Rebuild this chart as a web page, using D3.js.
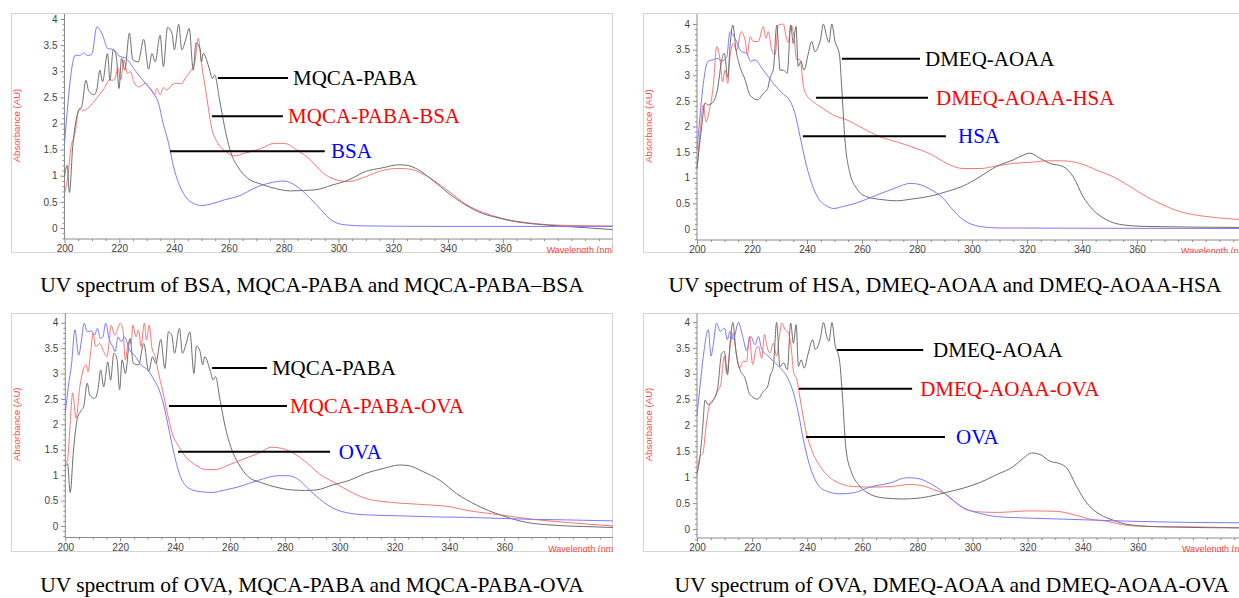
<!DOCTYPE html>
<html>
<head>
<meta charset="utf-8">
<script src="https://cdn.jsdelivr.net/npm/d3@7"></script>
<style>
  body { margin: 0; background: #fff; }
  svg { display: block; }
</style>
</head>
<body>
<svg id="fig" width="1239" height="598"></svg>
<script>
// ---------- spectra: [wavelength (nm), absorbance (AU)] ----------
const bsa = [[200,1.62],[204,3.31],[205.4,3.3],[207,3.35],[208.5,3.3],[210,3.33],[211.8,3.85],[213.9,3.69],[215.7,3.44],[218,3.41],[220,3.29],[222.3,3.25],[226,3.0],[229.5,2.77],[232.5,2.58],[234.3,2.39],[236,2.0],[238,1.62],[239.8,1.17],[242.2,0.79],[244.6,0.57],[247.6,0.46],[250,0.43],[253.6,0.46],[258.4,0.54],[263,0.6],[270.5,0.79],[277.7,0.89],[280,0.9],[285,0.79],[289.8,0.56],[293.8,0.34],[297.4,0.15],[302.4,0.06],[310,0.04],[340,0.03],[400,0.03]];

const mqcaPaba1 = [[200,0.98],[201,1.2],[201.8,0.68],[203,1.56],[204.8,2.19],[206.4,2.35],[207.8,2.83],[208.8,2.63],[210.8,2.55],[211.8,2.65],[212.9,3.02],[213.9,2.8],[215.7,3.34],[216.6,2.83],[217.8,3.42],[218.9,3.28],[219.9,2.67],[220.8,3.25],[222,3.02],[223.7,3.73],[224.9,3.22],[226.9,3.18],[228.9,3.61],[230.7,3.04],[231.9,3.34],[233.1,3.18],[234.9,3.69],[236.1,3.09],[237.6,3.84],[239.2,3.73],[240.1,3.41],[241.7,3.9],[242.8,3.41],[244.2,3.6],[245.5,3.82],[247,3.02],[248,3.54],[249.4,3.44],[250,3.18],[250.6,3.34],[253,3.02],[253.9,2.86],[254.8,2.93],[256.6,2.45],[258.4,1.94],[260.8,1.43],[263.3,1.17],[266.9,0.95],[271.7,0.84],[275.3,0.78],[282.5,0.71],[287.3,0.72],[291.4,0.73],[297.6,0.82],[303.7,0.92],[309.8,1.08],[315.9,1.15],[322,1.21],[325,1.2],[329.3,1.11],[334.2,0.92],[340.3,0.66],[346.4,0.44],[352.5,0.28],[358.6,0.19],[364.7,0.12],[370.8,0.08],[383,0.03],[400,-0.03]];

const mqcaPabaBsa = [[200,0.66],[201.2,0.98],[202.4,1.56],[203.6,1.75],[205.4,2.29],[206.6,2.24],[208.4,2.29],[210.8,2.42],[212.7,2.55],[214.5,2.67],[216.3,2.83],[218.1,2.83],[219.6,3.06],[220.5,2.83],[221.7,3.22],[222.9,2.96],[224.1,2.99],[225.3,2.8],[227.1,2.7],[229.5,2.77],[231.9,2.61],[232.9,2.55],[233.7,2.67],[234.9,2.55],[236.1,2.69],[237.3,2.64],[239.2,2.74],[241,2.77],[242.8,2.76],[244,2.86],[245.8,2.99],[247.6,3.18],[248.8,3.63],[250,3.15],[251.8,2.55],[253.6,1.94],[256,1.62],[259,1.46],[262,1.38],[265.7,1.43],[271.7,1.52],[276.5,1.62],[280.1,1.62],[284.9,1.49],[289.8,1.3],[293,1.12],[297.6,0.95],[303.7,0.89],[309.8,0.98],[315.9,1.1],[322,1.14],[325.6,1.13],[331.7,1.01],[340.3,0.7],[346.4,0.46],[358.6,0.2],[370.8,0.09],[383,0.05],[400,0.04]];

const hsa = [[200,1.54],[204.1,3.28],[205.9,3.3],[207.2,3.33],[209,3.28],[210.8,3.36],[212,3.85],[213.8,3.72],[216.2,3.46],[218.1,3.43],[219.5,3.27],[221.1,3.3],[224.1,3.1],[227.8,2.84],[231.4,2.63],[233.6,2.52],[235.6,2.26],[237.5,1.8],[239.3,1.35],[241.7,0.89],[244.1,0.6],[247.2,0.45],[249.6,0.4],[253.2,0.44],[258.1,0.51],[265.3,0.66],[272.6,0.81],[277.5,0.89],[279.9,0.88],[284.7,0.78],[289.5,0.6],[293.1,0.37],[296.8,0.18],[302.9,0.05],[310,0.02],[400,0.01]];

const dmeqAoaa2 = [[200,1.18],[201.7,2.0],[202.9,2.46],[204.1,2.42],[205.9,2.48],[207.4,2.71],[209,3.3],[209.9,3.43],[211.2,2.96],[212,3.56],[213,3.98],[214.2,3.49],[215.6,3.17],[217.5,2.91],[219.3,2.61],[222.1,2.52],[224.1,2.65],[225.7,2.74],[226.5,2.94],[227.8,3.13],[229,3.98],[230.2,3.1],[231.4,3.1],[232.8,3.04],[234.1,3.98],[235,3.62],[236,3.95],[236.8,3.17],[237.8,3.27],[238.9,3.1],[240.5,3.43],[241.7,3.66],[242.9,3.46],[244.1,3.56],[245,3.72],[245.9,4.0],[247.2,3.75],[248,3.64],[249,4.0],[250.2,3.66],[251.8,3.4],[252.6,2.78],[253.8,1.74],[255.6,1.09],[258.1,0.79],[261.7,0.63],[267.8,0.57],[272.6,0.55],[277.5,0.58],[284.7,0.64],[290.8,0.73],[296.8,0.84],[302.9,1.02],[308.9,1.22],[315,1.35],[318.6,1.44],[321,1.48],[324.7,1.38],[328.3,1.28],[333.1,1.22],[336.8,1.02],[340.4,0.63],[344.1,0.37],[348.9,0.18],[355,0.08],[363.5,0.05],[400,0.03]];

const dmeqAoaaHsa = [[200,1.18],[201.1,1.87],[202.3,2.42],[203.3,2.09],[204.5,2.32],[205.9,2.78],[207.2,3.56],[208.4,3.3],[209.3,2.87],[210.2,3.1],[211.2,2.84],[212,3.36],[213.2,3.62],[214.4,3.49],[216,3.85],[217.5,3.69],[218.3,3.4],[219.3,3.75],[220.5,3.66],[222.3,3.66],[224.1,3.95],[225.1,3.72],[225.9,3.85],[227.2,3.49],[228.4,3.4],[229.6,3.98],[231.4,4.0],[232.4,3.75],[233.2,3.64],[234.1,3.98],[235.3,3.75],[236.2,3.31],[237.5,3.3],[238.7,2.78],[239.9,2.61],[242.3,2.48],[245.9,2.35],[249.6,2.22],[254.4,2.13],[260.5,1.96],[266.5,1.8],[272.6,1.7],[279.9,1.57],[285,1.46],[290.8,1.28],[296.8,1.18],[302.9,1.18],[308.9,1.23],[315,1.28],[321,1.3],[327.1,1.33],[333.1,1.33],[339.2,1.28],[345.3,1.15],[351.3,1.02],[357.4,0.83],[363.5,0.63],[369.5,0.47],[375.6,0.34],[381.7,0.27],[391.4,0.21],[400,0.17]];

const ova3 = [[200,2.22],[201.1,2.74],[202.3,3.2],[203.5,3.86],[204.9,3.36],[205.9,3.66],[206.9,3.99],[208,3.82],[209.5,3.84],[210.7,3.76],[211.7,3.89],[212.8,3.69],[213.7,3.72],[214.7,3.99],[216.1,3.66],[217.3,3.53],[218.2,3.43],[219.2,3.72],[220.4,3.63],[221.6,3.72],[223.4,3.46],[225.2,3.36],[227.6,3.17],[230,3.07],[232.4,2.87],[234.2,2.68],[236,2.35],[237.8,1.89],[239.6,1.43],[242,0.97],[245.1,0.74],[248.7,0.68],[253.5,0.66],[258.3,0.71],[263.1,0.77],[270.4,0.9],[277.6,0.99],[281.2,0.99],[286,0.87],[289,0.71],[293.9,0.48],[297.6,0.35],[303.7,0.25],[309.7,0.22],[321.9,0.2],[334.1,0.18],[346.2,0.17],[358.4,0.15],[370.6,0.13],[382.7,0.12],[400,0.1]];

const mqcaPaba3 = [[200,1.17],[200.8,1.23],[201.8,0.66],[202.9,1.43],[204.3,2.09],[205.9,2.28],[206.7,2.35],[208,2.81],[208.9,2.58],[210.7,2.51],[211.9,2.68],[212.9,3.07],[214,2.74],[215.5,3.23],[216.5,2.87],[217.7,3.4],[218.8,3.3],[219.8,2.68],[220.7,3.27],[221.9,3.0],[223.6,3.69],[224.8,3.2],[226.7,3.17],[228.6,3.59],[230.4,3.04],[231.8,3.33],[233,3.2],[234.8,3.67],[236.3,3.1],[237.6,3.82],[238.8,3.76],[239.8,3.4],[241.6,3.89],[242.7,3.4],[243.9,3.56],[245.4,3.82],[246.9,3.0],[247.8,3.54],[249,3.46],[250.1,3.17],[250.8,3.33],[252.9,3.04],[253.9,2.87],[254.7,2.94],[256.5,2.45],[258.3,1.95],[260.7,1.5],[263.1,1.23],[266.7,0.97],[271.6,0.85],[276.4,0.77],[282.4,0.71],[287.2,0.7],[291.5,0.71],[297.6,0.81],[303.7,0.9],[309.7,1.04],[315.8,1.13],[321.9,1.2],[324.9,1.19],[330.4,1.07],[336.5,0.9],[342.6,0.64],[349.9,0.41],[358.4,0.22],[368.2,0.07],[376.7,0.02],[388.8,-0.01],[400,-0.03]];

const mqcaPabaOva = [[200,1.23],[200.8,1.3],[201.7,1.95],[202.7,2.62],[203.9,2.12],[205.3,2.74],[206.5,3.07],[207.5,3.17],[208.3,3.04],[209.2,3.4],[210.1,3.79],[211.1,3.53],[212.5,3.59],[214,3.43],[215.2,3.33],[215.9,3.59],[216.7,3.95],[218,3.76],[219.2,3.89],[220,3.99],[221,3.86],[221.9,3.27],[223.1,3.63],[224,3.59],[224.6,3.95],[225.8,3.72],[226.7,3.86],[227.6,3.53],[228.8,3.99],[229.6,3.66],[230.6,3.95],[231.6,3.5],[232.8,3.33],[234,3.0],[235.4,2.68],[237.2,2.22],[239,1.82],[241.4,1.56],[243.9,1.36],[247.5,1.2],[251.1,1.11],[254.7,1.11],[259.5,1.2],[265.5,1.33],[270.4,1.43],[275.2,1.55],[280,1.51],[285,1.37],[289.6,1.17],[292,1.05],[297.6,0.87],[303.7,0.68],[309.7,0.54],[315.8,0.48],[321.9,0.45],[334.1,0.41],[340.2,0.38],[346.2,0.31],[358.4,0.22],[370.6,0.13],[382.7,0.07],[400,0.0]];

const ova4 = [[200,2.19],[201.1,2.76],[202.3,3.34],[204.1,3.85],[205.1,3.34],[205.9,3.56],[207.1,3.98],[208.4,3.82],[210,3.88],[211,3.66],[212,3.82],[213.2,3.66],[215,3.99],[216.6,3.72],[218,3.45],[219.5,3.72],[221.1,3.56],[222.3,3.72],[223.5,3.47],[225.3,3.37],[227.7,3.24],[230.8,3.08],[233.2,2.89],[235,2.63],[236.8,2.24],[238.6,1.73],[241,1.21],[243.5,0.89],[247.1,0.73],[251.9,0.68],[256.8,0.7],[262.8,0.81],[270.1,0.89],[276.1,0.99],[279.8,0.98],[284.6,0.88],[288.2,0.76],[291.8,0.6],[296.7,0.41],[302.8,0.3],[308.8,0.24],[320.9,0.21],[333,0.19],[345.1,0.17],[357.2,0.15],[375.3,0.13],[400,0.12]];

const dmeqAoaa4 = [[200,1.08],[201.1,1.4],[202.1,1.98],[202.9,2.49],[204.1,2.4],[205.7,2.47],[207.4,2.69],[209,3.4],[209.9,3.43],[211.1,2.98],[212,3.59],[213,3.99],[214.2,3.4],[215.6,3.08],[217.4,2.92],[219.2,2.6],[222,2.51],[224.1,2.66],[225.7,2.76],[226.5,2.95],[227.7,3.14],[228.9,3.99],[230.1,3.14],[231.4,3.21],[232.8,3.08],[234,3.98],[235,3.59],[236,3.95],[236.8,3.14],[237.8,3.27],[238.9,3.11],[240.4,3.4],[242,3.66],[242.9,3.47],[244.1,3.56],[244.9,3.72],[245.9,3.99],[247.1,3.72],[247.9,3.63],[249,3.99],[250.1,3.56],[251.7,3.27],[252.8,2.56],[254.1,1.53],[256.2,1.08],[258.6,0.86],[261.6,0.71],[267.7,0.6],[274.9,0.58],[281,0.6],[287,0.66],[290.7,0.71],[296.7,0.79],[302.8,0.9],[308.8,1.05],[314.9,1.21],[318.5,1.37],[321.5,1.47],[324.5,1.44],[328.1,1.31],[331.8,1.26],[334.2,1.18],[337.8,0.82],[341.5,0.5],[346.3,0.28],[351.1,0.17],[357.2,0.08],[369.3,0.04],[400,0.02]];

const dmeqAoaaOva = [[200,1.02],[201.1,1.4],[202.1,1.46],[203.3,1.98],[204.7,2.43],[205.9,2.5],[207.4,2.66],[208.6,2.79],[209.9,3.34],[210.8,3.01],[212,3.5],[213,3.79],[214.2,3.43],[215.4,3.11],[216.8,3.24],[218,3.24],[219,3.72],[220.2,3.18],[221.4,3.47],[222.3,3.53],[223.5,3.3],[224.5,3.76],[225.5,3.5],[226.5,3.4],[227.7,3.59],[228.9,3.34],[229.9,3.72],[230.8,3.98],[232,3.85],[233.2,3.79],[234.4,3.4],[235,3.05],[236.2,2.89],[237.7,2.43],[239.2,1.98],[241.6,1.53],[244.7,1.21],[248.3,0.99],[251.9,0.88],[256.8,0.82],[262.8,0.81],[270.1,0.82],[277.4,0.86],[282.2,0.83],[287,0.74],[289.4,0.7],[294.3,0.5],[297.9,0.37],[302.8,0.33],[308.8,0.32],[320.9,0.35],[330.6,0.34],[336.6,0.28],[342.7,0.19],[348.7,0.15],[354.8,0.08],[363.3,0.05],[381.4,0.04],[400,0.02]];

// ---------- axis ticks and text ----------
const yTicks = [0, 0.5, 1, 1.5, 2, 2.5, 3, 3.5, 4];
const xTicks = [200, 220, 240, 260, 280, 300, 320, 340, 360];
const captions = [
  "UV spectrum of BSA, MQCA-PABA and MQCA-PABA\u2013BSA",
  "UV spectrum of HSA, DMEQ-AOAA and DMEQ-AOAA-HSA",
  "UV spectrum of OVA, MQCA-PABA and MQCA-PABA-OVA",
  "UV spectrum of OVA, DMEQ-AOAA and DMEQ-AOAA-OVA"
];

// ---------- styling ----------
const curveColor = { black: "#6e6e6e", red: "#ff7474", blue: "#7a7aff" };
const labelColor = { black: "#000", red: "#ff0000", blue: "#0000ff" };

// Panel layout; annotation lines are given in data units (nm, AU)
const panels = [
  { frame: [11, 13, 613, 253], xr: [64.5, 612.5], y0: 228, y4: 19, axisY: 239, axisTop: 14,
    series: [[mqcaPabaBsa, "red"], [mqcaPaba1, "black"], [bsa, "blue"]],
    notes: [
      { text: "MQCA-PABA", c: "black", x1: 256, x2: 281.6, y: 2.87, lx: 283.4 },
      { text: "MQCA-PABA-BSA", c: "red", x1: 253.8, x2: 279.7, y: 2.14, lx: 281.6 },
      { text: "BSA", c: "blue", x1: 238.5, x2: 295, y: 1.47, lx: 297.3 }
    ],
    cap: { i: 0, x: 312, y: 292 } },
  { frame: [643, 13, 1250, 253], xr: [697, 1247], y0: 229, y4: 24, axisY: 240, axisTop: 14,
    series: [[dmeqAoaaHsa, "red"], [dmeqAoaa2, "black"], [hsa, "blue"]],
    notes: [
      { text: "DMEQ-AOAA", c: "black", x1: 252.7, x2: 281.1, y: 3.32, lx: 282.9 },
      { text: "DMEQ-AOAA-HSA", c: "red", x1: 243.3, x2: 284, y: 2.56, lx: 286.9 },
      { text: "HSA", c: "blue", x1: 238.5, x2: 290.5, y: 1.81, lx: 294.9 }
    ],
    cap: { i: 1, x: 945, y: 292 } },
  { frame: [11, 313, 613, 552], xr: [65.3, 614], y0: 526, y4: 322.7, axisY: 537.5, axisTop: 313,
    series: [[mqcaPabaOva, "red"], [mqcaPaba3, "black"], [ova3, "blue"]],
    notes: [
      { text: "MQCA-PABA", c: "black", x1: 253.5, x2: 273.5, y: 3.11, lx: 275.3 },
      { text: "MQCA-PABA-OVA", c: "red", x1: 237.8, x2: 280.8, y: 2.36, lx: 281.9 },
      { text: "OVA", c: "blue", x1: 241.1, x2: 296.5, y: 1.46, lx: 299.7 }
    ],
    cap: { i: 2, x: 312, y: 592 } },
  { frame: [643, 313, 1250, 552], xr: [697, 1248], y0: 529, y4: 322, axisY: 538, axisTop: 313,
    series: [[dmeqAoaaOva, "red"], [dmeqAoaa4, "black"], [ova4, "blue"]],
    notes: [
      { text: "DMEQ-AOAA", c: "black", x1: 250.8, x2: 282.1, y: 3.46, lx: 285.7 },
      { text: "DMEQ-AOAA-OVA", c: "red", x1: 237, x2: 278.1, y: 2.71, lx: 281 },
      { text: "OVA", c: "blue", x1: 239.6, x2: 290, y: 1.78, lx: 294 }
    ],
    cap: { i: 3, x: 952, y: 592 } }
];

const svg = d3.select("#fig");
const sans = "'Liberation Sans', Arial, sans-serif";
const serif = "'Liberation Serif', 'Times New Roman', serif";

panels.forEach((p, k) => {
  const [fx0, fy0, fx1, fy1] = p.frame;
  const xs = d3.scaleLinear().domain([200, 400]).range(p.xr);
  const ys = d3.scaleLinear().domain([0, 4]).range([p.y0, p.y4]);

  const clipId = "clip" + k;
  svg.append("clipPath").attr("id", clipId)
    .append("rect").attr("x", fx0).attr("y", fy0).attr("width", fx1 - fx0).attr("height", fy1 - fy0);

  const g = svg.append("g").attr("clip-path", `url(#${clipId})`);

  g.append("rect")
    .attr("x", fx0 + 0.5).attr("y", fy0 + 0.5)
    .attr("width", fx1 - fx0 - 1).attr("height", fy1 - fy0 - 1)
    .attr("fill", "#fff").attr("stroke", "#d4d4d4");

  const xl = xs(200);

  // minor and major ticks, y axis
  const yMinor = d3.range(-2, 41).map(v => v / 10).filter(v => !yTicks.includes(v));
  const yMin = g.append("g").attr("transform", `translate(${xl},0)`)
    .call(d3.axisLeft(ys).tickValues(yMinor).tickSize(2).tickFormat(""));
  const yMaj = g.append("g").attr("transform", `translate(${xl},0)`)
    .call(d3.axisLeft(ys).tickValues(yTicks).tickSize(4).tickPadding(3).tickFormat(d => String(d)));

  // minor and major ticks, x axis
  const xMinor = d3.range(205, 400, 5).filter(v => !xTicks.includes(v));
  const xMin = g.append("g").attr("transform", `translate(0,${p.axisY})`)
    .call(d3.axisBottom(xs).tickValues(xMinor).tickSize(2).tickFormat(""));
  const xMaj = g.append("g").attr("transform", `translate(0,${p.axisY})`)
    .call(d3.axisBottom(xs).tickValues(xTicks).tickSize(4).tickPadding(2));

  [yMin, yMaj, xMin, xMaj].forEach(a => {
    a.select(".domain").remove();
    a.selectAll("line").attr("stroke", "#8a8a8a");
    a.selectAll("text").attr("fill", "#444").style("font", `10px ${sans}`);
  });

  g.append("line").attr("x1", xl).attr("x2", xl).attr("y1", p.axisTop).attr("y2", p.axisY)
    .attr("stroke", "#8a8a8a");
  g.append("line").attr("x1", xl).attr("x2", fx1).attr("y1", p.axisY).attr("y2", p.axisY)
    .attr("stroke", "#8a8a8a");

  g.append("text")
    .attr("x", xs(380) - 11).attr("y", p.axisY + 14)
    .attr("fill", "#ff3b3b").style("font", `9px ${sans}`)
    .text("Wavelength (nm)");

  g.append("text")
    .attr("transform", `translate(${fx0 + 8.5},${(p.axisTop + p.axisY) / 2 - 1}) rotate(-90)`)
    .attr("text-anchor", "middle")
    .attr("fill", "#ff4a4a").style("font", `9.6px ${sans}`)
    .text("Absorbance (AU)");

  // spectra
  const line = d3.line().x(d => xs(d[0])).y(d => ys(d[1])).curve(d3.curveMonotoneX);
  p.series.forEach(([data, c]) => {
    g.append("path").datum(data)
      .attr("d", line)
      .attr("fill", "none")
      .attr("stroke", curveColor[c])
      .attr("stroke-width", 1)
      .attr("stroke-linejoin", "round");
  });

  // leader lines and labels
  p.notes.forEach(n => {
    g.append("line")
      .attr("x1", xs(n.x1)).attr("x2", xs(n.x2))
      .attr("y1", ys(n.y)).attr("y2", ys(n.y))
      .attr("stroke", "#000").attr("stroke-width", 2);
    g.append("text")
      .attr("x", xs(n.lx)).attr("y", ys(n.y))
      .attr("dy", "0.34em")
      .attr("fill", labelColor[n.c])
      .style("font", `21px ${serif}`)
      .text(n.text);
  });

  svg.append("text")
    .attr("x", p.cap.x).attr("y", p.cap.y)
    .attr("text-anchor", "middle")
    .attr("fill", "#000")
    .style("font", `21.5px ${serif}`)
    .text(captions[p.cap.i]);
});
</script>
</body>
</html>
